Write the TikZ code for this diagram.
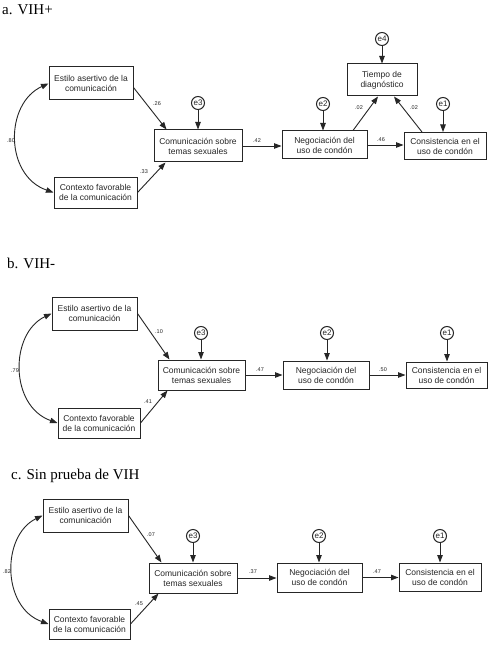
\documentclass[tikz,border=0pt]{standalone}
\usepackage{fontspec}
\setmainfont{Liberation Serif}
\newfontfamily\arialf{Liberation Sans}
\usetikzlibrary{arrows.meta}
\definecolor{ink}{HTML}{262626}
\tikzset{
  box/.style={draw=ink, line width=1pt, align=center, inner sep=0pt, text=ink,
    font=\arialf\fontsize{8.5}{10}\selectfont},
  err/.style={draw=ink, circle, line width=1pt, inner sep=0pt, minimum size=13pt, text=ink,
    font=\arialf\fontsize{8}{8}\selectfont},
  coef/.style={inner sep=0pt, text=ink, font=\arialf\fontsize{5.5}{6}\selectfont},
  ttl/.style={anchor=base west, inner sep=0pt, font=\fontsize{15}{17}\selectfont},
  arr/.style={draw=ink, line width=0.9pt, -{Triangle[length=7.5pt,width=5.5pt]}},
  arrtwo/.style={draw=ink, line width=0.9pt, {Triangle[length=7.5pt,width=5.5pt]}-{Triangle[length=7.5pt,width=5.5pt]}}
}
\begin{document}
\begin{tikzpicture}[x=1pt,y=-1pt]
\useasboundingbox[fill=white] (0,0) rectangle (498,655);
% ---------------- Panel a ----------------
\node[ttl] (ta) at (2,15) {a. VIH+};
\node[box, minimum width=84pt, minimum height=33pt] (estA) at (91,83.5) {Estilo asertivo de la\\comunicación};
\node[box, minimum width=83pt, minimum height=31pt] (conA) at (95.5,192.5) {Contexto favorable\\de la comunicación};
\node[box, minimum width=88pt, minimum height=32pt] (comA) at (198,146) {Comunicación sobre\\temas sexuales};
\node[box, minimum width=85pt, minimum height=28pt] (negA) at (324.5,145) {Negociación del\\uso de condón};
\node[box, minimum width=82pt, minimum height=27pt] (csA) at (445,146) {Consistencia en el\\uso de condón};
\node[box, minimum width=70pt, minimum height=32pt] (tiA) at (382,80) {Tiempo de\\diagnóstico};
\node[err] (e4a) at (382,39) {e4};
\node[err] (e3a) at (198,103) {e3};
\node[err] (e2a) at (323,104) {e2};
\node[err] (e1a) at (443,104) {e1};
\draw[arrtwo] (estA.west) .. controls +(-44,20) and +(-49,-17) .. (conA.west);
\draw[arr] ([yshift=-4pt]estA.east) -- ([xshift=13pt]comA.north west);
\draw[arr] (conA.east) -- ([xshift=12pt]comA.south west);
\draw[arr] (comA.east) -- (comA.east -| negA.west);
\draw[arr] (negA.east) -- (negA.east -| csA.west);
\draw[arr] ([xshift=28.5pt]negA.north) -- ([xshift=-4pt]tiA.south);
\draw[arr] ([xshift=-23pt]csA.north) -- ([xshift=12pt]tiA.south);
\draw[arr] (e4a) -- (e4a |- tiA.north);
\draw[arr] (e3a) -- (e3a |- comA.north);
\draw[arr] (e2a) -- (e2a |- negA.north);
\draw[arr] (e1a) -- (e1a |- csA.north);
\node[coef] at (157,104) {.26};
\node[coef] at (144,172) {.33};
\node[coef] at (11,141) {.80};
\node[coef] at (257,141) {.42};
\node[coef] at (381,140) {.46};
\node[coef] at (359,108) {.02};
\node[coef] at (414,108) {.02};
% ---------------- Panel b ----------------
\node[ttl] (tb) at (7,268) {b. VIH-};
\node[box, minimum width=85pt, minimum height=33pt] (estB) at (94.5,313.5) {Estilo asertivo de la\\comunicación};
\node[box, minimum width=82pt, minimum height=30pt] (conB) at (99,423) {Contexto favorable\\de la comunicación};
\node[box, minimum width=87pt, minimum height=30pt] (comB) at (201.5,375) {Comunicación sobre\\temas sexuales};
\node[box, minimum width=86pt, minimum height=28pt] (negB) at (326,375) {Negociación del\\uso de condón};
\node[box, minimum width=81pt, minimum height=26pt] (csB) at (446.5,375) {Consistencia en el\\uso de condón};
\node[err] (e3b) at (201,333) {e3};
\node[err] (e2b) at (327,333) {e2};
\node[err] (e1b) at (447,333) {e1};
\draw[arrtwo] (estB.west) .. controls +(-42,20) and +(-48,-17) .. (conB.west);
\draw[arr] (estB.east) -- ([xshift=12pt]comB.north west);
\draw[arr] (conB.east) -- ([xshift=10pt]comB.south west);
\draw[arr] (comB.east) -- (comB.east -| negB.west);
\draw[arr] (negB.east) -- (negB.east -| csB.west);
\draw[arr] (e3b) -- (e3b |- comB.north);
\draw[arr] (e2b) -- (e2b |- negB.north);
\draw[arr] (e1b) -- (e1b |- csB.north);
\node[coef] at (159,332) {.10};
\node[coef] at (148,402) {.41};
\node[coef] at (15,371) {.79};
\node[coef] at (260,370) {.47};
\node[coef] at (383,370) {.50};
% ---------------- Panel c ----------------
\node[ttl] (tc) at (11,479) {c. Sin prueba de VIH};
\node[box, minimum width=85pt, minimum height=33pt] (estC) at (85.5,515.5) {Estilo asertivo de la\\comunicación};
\node[box, minimum width=81pt, minimum height=30pt] (conC) at (89.5,624) {Contexto favorable\\de la comunicación};
\node[box, minimum width=88pt, minimum height=30pt] (comC) at (193,578) {Comunicación sobre\\temas sexuales};
\node[box, minimum width=85pt, minimum height=29pt] (negC) at (319.5,577.5) {Negociación del\\uso de condón};
\node[box, minimum width=82pt, minimum height=28pt] (csC) at (440,577) {Consistencia en el\\uso de condón};
\node[err] (e3c) at (193,536) {e3};
\node[err] (e2c) at (319,536) {e2};
\node[err] (e1c) at (440,536) {e1};
\draw[arrtwo] (estC.west) .. controls +(-41,20) and +(-47,-17) .. (conC.west);
\draw[arr] (estC.east) -- ([xshift=13pt]comC.north west);
\draw[arr] (conC.east) -- ([xshift=10pt]comC.south west);
\draw[arr] (comC.east) -- (comC.east -| negC.west);
\draw[arr] (negC.east) -- (negC.east -| csC.west);
\draw[arr] (e3c) -- (e3c |- comC.north);
\draw[arr] (e2c) -- (e2c |- negC.north);
\draw[arr] (e1c) -- (e1c |- csC.north);
\node[coef] at (151,535) {.07};
\node[coef] at (139,604) {.45};
\node[coef] at (7,572) {.82};
\node[coef] at (253,572) {.37};
\node[coef] at (377,572) {.47};
\end{tikzpicture}
\end{document}
